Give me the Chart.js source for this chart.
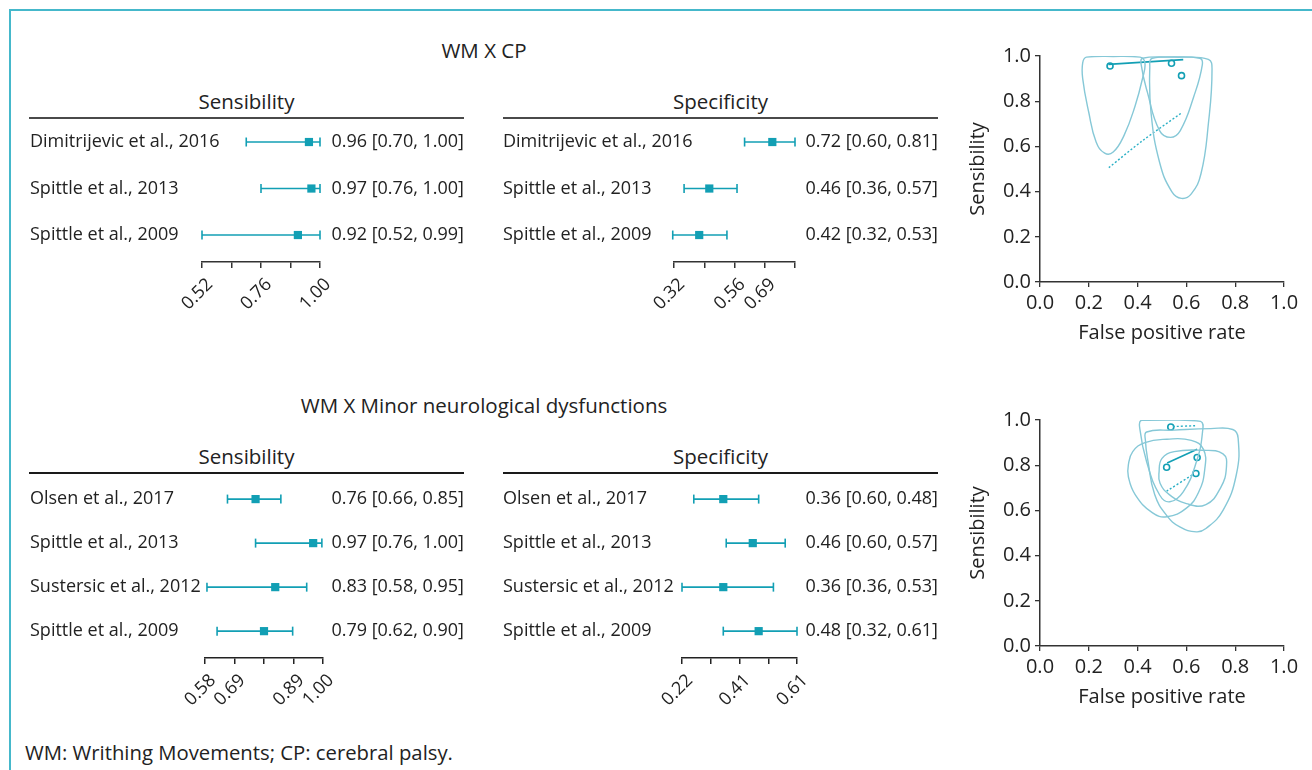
<!DOCTYPE html>
<html>
<head>
<meta charset="utf-8">
<script src="https://cdn.jsdelivr.net/npm/chart.js@4.4.1/dist/chart.umd.min.js"></script>
<style>
  body { margin: 0; background: #fff; font-family: 'Open Sans', sans-serif; color: #222; }
  #page { position: relative; width: 1312px; height: 770px; overflow: hidden; }
  .frame { position: absolute; left: 9px; top: 9px; width: 1400px; height: 900px;
           border-left: 2px solid #45b8cb; border-top: 2px solid #45b8cb; }
  .title { position: absolute; left: 184px; width: 600px; text-align: center; font-size: 20.5px; line-height: 24px; }
  .head { position: absolute; width: 435px; height: 30px; box-sizing: border-box; text-align: center;
          font-size: 20.5px; line-height: 24px; border-bottom: 2px solid #4a4a4a; }
  .head.dark { border-bottom-color: #1a1a1a; }
  .foot { position: absolute; left: 25px; top: 740px; font-size: 20.3px; line-height: 24px; }
  canvas { position: absolute; }
</style>
</head>
<body>
<div id="page">
  <div class="frame"></div>
  <div class="title" style="top:38px">WM X CP</div>
  <div class="head" style="left:29px; top:89px">Sensibility</div>
  <div class="head" style="left:503px; top:89px">Specificity</div>
  <canvas id="cpSens" width="434" height="195" style="left:30px; top:119px"></canvas>
  <canvas id="cpSpec" width="435" height="195" style="left:503px; top:119px"></canvas>
  <canvas id="cpRoc" width="352" height="320" style="left:960px; top:30px"></canvas>

  <div class="title" style="top:393px">WM X Minor neurological dysfunctions</div>
  <div class="head dark" style="left:29px; top:444px">Sensibility</div>
  <div class="head dark" style="left:503px; top:444px">Specificity</div>
  <canvas id="mndSens" width="434" height="236" style="left:30px; top:474px"></canvas>
  <canvas id="mndSpec" width="435" height="236" style="left:503px; top:474px"></canvas>
  <canvas id="mndRoc" width="352" height="320" style="left:960px; top:394px"></canvas>

  <div class="foot">WM: Writhing Movements; CP: cerebral palsy.</div>
</div>
<script>
// WM x CP
const cpStudies = ['Dimitrijevic et al., 2016', 'Spittle et al., 2013', 'Spittle et al., 2009'];
const cpSensEst = [0.955, 0.965, 0.91];
const cpSensLo = [0.70, 0.76, 0.52];
const cpSensHi = [1.00, 1.00, 1.00];
const cpSensText = ['0.96 [0.70, 1.00]', '0.97 [0.76, 1.00]', '0.92 [0.52, 0.99]'];
const cpSensTicks = [0.52, 0.64, 0.76, 0.88, 1.00];
const cpSensTickLabels = ['0.52', '', '0.76', '', '1.00'];

const cpSpecEst = [0.71, 0.46, 0.42];
const cpSpecLo = [0.60, 0.36, 0.315];
const cpSpecHi = [0.80, 0.57, 0.53];
const cpSpecText = ['0.72 [0.60, 0.81]', '0.46 [0.36, 0.57]', '0.42 [0.32, 0.53]'];
const cpSpecTicks = [0.32, 0.44, 0.56, 0.68, 0.80];
const cpSpecTickLabels = ['0.32', '', '0.56', '0.69', ''];

// WM x minor neurological dysfunctions
const mndStudies = ['Olsen et al., 2017', 'Spittle et al., 2013', 'Sustersic et al., 2012', 'Spittle et al., 2009'];
const mndSensEst = [0.76, 0.965, 0.83, 0.79];
const mndSensLo = [0.66, 0.76, 0.587, 0.623];
const mndSensHi = [0.85, 0.996, 0.942, 0.892];
const mndSensText = ['0.76 [0.66, 0.85]', '0.97 [0.76, 1.00]', '0.83 [0.58, 0.95]', '0.79 [0.62, 0.90]'];
const mndSensTicks = [0.58, 0.685, 0.79, 0.895, 1.00];
const mndSensTickLabels = ['0.58', '0.69', '', '0.89', '1.00'];

const mndSpecEst = [0.36, 0.46, 0.36, 0.48];
const mndSpecLo = [0.26, 0.37, 0.22, 0.36];
const mndSpecHi = [0.48, 0.57, 0.53, 0.61];
const mndSpecText = ['0.36 [0.60, 0.48]', '0.46 [0.60, 0.57]', '0.36 [0.36, 0.53]', '0.48 [0.32, 0.61]'];
const mndSpecTicks = [0.22, 0.3175, 0.415, 0.5125, 0.61];
const mndSpecTickLabels = ['0.22', '', '0.41', '', '0.61'];

// SROC plots: [false positive rate, sensibility]
const cpRocStudies = [[0.287, 0.956], [0.539, 0.968], [0.58, 0.913]];
const cpRocCurve = [[0.28, 0.963], [0.587, 0.984]];
const cpRocDotted = [[0.282, 0.506], [0.42, 0.625], [0.58, 0.748]];
const cpRocRegions = [
  [[0.19, 0.995], [0.30, 0.998], [0.41, 0.995], [0.43, 0.97], [0.42, 0.90], [0.39, 0.78], [0.345, 0.65], [0.30, 0.575], [0.265, 0.57], [0.23, 0.62], [0.20, 0.75], [0.175, 0.90], [0.175, 0.97]],
  [[0.42, 0.99], [0.53, 0.995], [0.655, 0.99], [0.665, 0.96], [0.63, 0.82], [0.575, 0.67], [0.535, 0.64], [0.49, 0.67], [0.44, 0.84], [0.415, 0.96]],
  [[0.46, 0.99], [0.58, 0.995], [0.69, 0.985], [0.705, 0.94], [0.69, 0.70], [0.66, 0.48], [0.62, 0.39], [0.58, 0.37], [0.54, 0.40], [0.49, 0.53], [0.455, 0.75], [0.45, 0.95]]
];

const mndRocStudies = [[0.536, 0.969], [0.644, 0.834], [0.519, 0.791], [0.639, 0.763]];
const mndRocCurve = [[0.521, 0.81], [0.644, 0.871]];
const mndRocDotted1 = [[0.545, 0.971], [0.641, 0.975]];
const mndRocDotted2 = [[0.519, 0.685], [0.628, 0.76]];
const mndRocRegions = [
  [[0.416, 0.999], [0.54, 1.0], [0.658, 0.994], [0.666, 0.947], [0.641, 0.815], [0.587, 0.682], [0.532, 0.638], [0.491, 0.667], [0.437, 0.815], [0.409, 0.962]],
  [[0.437, 0.947], [0.55, 0.955], [0.70, 0.962], [0.79, 0.958], [0.812, 0.92], [0.805, 0.76], [0.75, 0.60], [0.68, 0.52], [0.641, 0.505], [0.573, 0.527], [0.518, 0.579], [0.47, 0.67], [0.443, 0.815], [0.432, 0.91]],
  [[0.362, 0.80], [0.38, 0.86], [0.43, 0.90], [0.52, 0.915], [0.62, 0.91], [0.67, 0.87], [0.675, 0.78], [0.65, 0.68], [0.60, 0.61], [0.52, 0.572], [0.46, 0.59], [0.39, 0.67], [0.362, 0.75]],
  [[0.488, 0.77], [0.50, 0.83], [0.55, 0.86], [0.66, 0.866], [0.75, 0.85], [0.764, 0.79], [0.74, 0.70], [0.68, 0.626], [0.60, 0.63], [0.53, 0.67], [0.492, 0.72]]
];

const TEAL = '#129fb4';
const REGION = '#86c8d7';
const FONT = { family: "'Open Sans', sans-serif", size: 18 };
const AXIS_FONT = { family: "'Open Sans', sans-serif", size: 20 };
const TEXT = '#222';

function forestChart(id, studies, est, lo, hi, ciText, tickVals, tickLabels, geo, axisColor) {
  const rows = studies.map((s, i) => i + 1);
  const ciSets = studies.map((s, i) => ({
    data: [{ x: lo[i], y: rows[i] }, { x: hi[i], y: rows[i] }],
    showLine: true,
    borderColor: TEAL,
    borderWidth: 1.6,
    pointStyle: 'line',
    pointRotation: 90,
    pointRadius: 4.5,
    pointBorderWidth: 1.6,
    pointBorderColor: TEAL,
    clip: false
  }));
  const estSet = {
    data: est.map((v, i) => ({ x: v, y: rows[i] })),
    pointStyle: 'rect',
    pointRadius: 5.8,
    backgroundColor: TEAL,
    borderColor: TEAL,
    borderWidth: 0,
    clip: false
  };
  const baseY = {
    type: 'linear',
    reverse: true,
    min: geo.ymin,
    max: geo.ymax,
    afterBuildTicks: s => { s.ticks = rows.map(v => ({ value: v })); },
    grid: { display: false },
    border: { display: false }
  };
  new Chart(document.getElementById(id), {
    type: 'scatter',
    data: { datasets: [...ciSets, estSet] },
    options: {
      responsive: false,
      animation: false,
      events: [],
      layout: { padding: 0, autoPadding: false },
      plugins: { legend: { display: false }, tooltip: { enabled: false } },
      scales: {
        x: {
          type: 'linear',
          min: tickVals[0],
          max: tickVals[tickVals.length - 1],
          afterBuildTicks: s => { s.ticks = tickVals.map(v => ({ value: v })); },
          ticks: { callback: (v, i) => tickLabels[i], minRotation: 45, maxRotation: 45, autoSkip: false,
                   font: FONT, color: TEXT, padding: 6, labelOffset: 8 },
          grid: { drawOnChartArea: false, drawTicks: true, tickLength: 6, color: axisColor, lineWidth: 1.5 },
          border: { color: axisColor, width: 1.5 },
          afterFit: s => { s.height = 52; s.paddingLeft = 0; s.paddingRight = 0; }
        },
        // study names: mirrored so they are not clipped to the axis box
        y: Object.assign({}, baseY, {
          position: 'left',
          ticks: { callback: (v, i) => studies[i], mirror: true, padding: -geo.left, autoSkip: false, font: FONT, color: TEXT },
          afterFit: s => { s.width = geo.left; s.paddingTop = 0; s.paddingBottom = 0; }
        }),
        y2: Object.assign({}, baseY, {
          position: 'right',
          ticks: { callback: (v, i) => ciText[i], crossAlign: 'far', autoSkip: false, font: FONT, color: TEXT, padding: 0 },
          afterFit: s => { s.width = geo.right; s.paddingTop = 0; s.paddingBottom = 0; }
        })
      }
    }
  });
}

function closeLoop(pts) {
  const n = pts.length;
  const loop = [pts[n - 1], ...pts, pts[0], pts[1]];
  return loop.map(p => ({ x: p[0], y: p[1] }));
}

function rocChart(id, studies, curve, dotted, regions) {
  const regionSets = regions.map(r => {
    const data = closeLoop(r);
    const last = data.length - 2;
    return {
      data,
      showLine: true,
      tension: 0.45,
      pointRadius: 0,
      borderColor: REGION,
      borderWidth: 1.4,
      segment: { borderColor: ctx => (ctx.p0DataIndex === 0 || ctx.p0DataIndex === last) ? 'rgba(0,0,0,0)' : undefined }
    };
  });
  const toXY = arr => arr.map(p => ({ x: p[0], y: p[1] }));
  const dottedSets = dotted.map(d => ({
    data: toXY(d),
    showLine: true,
    tension: 0.3,
    pointRadius: 0,
    borderColor: '#2bb0c6',
    borderWidth: 1.4,
    borderDash: [2, 2]
  }));
  const axis = (title, fitFn) => ({
    type: 'linear',
    min: 0,
    max: 1,
    ticks: { stepSize: 0.2, callback: v => v.toFixed(1), font: AXIS_FONT, color: TEXT, padding: 4 },
    grid: { drawOnChartArea: false, drawTicks: true, tickLength: 5, color: '#333', lineWidth: 1.3 },
    border: { color: '#333', width: 1.5 },
    title: { display: true, text: title, font: AXIS_FONT, color: TEXT, padding: { top: 6, bottom: 5 } },
    afterFit: fitFn
  });
  new Chart(document.getElementById(id), {
    type: 'scatter',
    data: {
      datasets: [
        ...regionSets,
        { data: toXY(curve), showLine: true, pointRadius: 0, borderColor: TEAL, borderWidth: 1.6 },
        ...dottedSets,
        { data: toXY(studies), pointRadius: 3, pointStyle: 'circle', backgroundColor: '#fff', borderColor: TEAL, pointBorderWidth: 1.6 }
      ]
    },
    options: {
      responsive: false,
      animation: false,
      events: [],
      layout: { padding: { top: 26, right: 28, left: 0, bottom: 0 }, autoPadding: false },
      plugins: { legend: { display: false }, tooltip: { enabled: false } },
      scales: {
        x: axis('False positive rate', s => { s.height = 68; s.paddingLeft = 0; s.paddingRight = 0; }),
        y: axis('Sensibility', s => { s.width = 80; s.paddingTop = 0; s.paddingBottom = 0; })
      }
    }
  });
}

forestChart('cpSens', cpStudies, cpSensEst, cpSensLo, cpSensHi, cpSensText, cpSensTicks, cpSensTickLabels,
  { left: 172, right: 144, ymin: 0.505, ymax: 3.58 }, '#333');
forestChart('cpSpec', cpStudies, cpSpecEst, cpSpecLo, cpSpecHi, cpSpecText, cpSpecTicks, cpSpecTickLabels,
  { left: 171, right: 143, ymin: 0.505, ymax: 3.58 }, '#333');
forestChart('mndSens', mndStudies, mndSensEst, mndSensLo, mndSensHi, mndSensText, mndSensTicks, mndSensTickLabels,
  { left: 175, right: 141, ymin: 0.43, ymax: 4.61 }, '#222');
forestChart('mndSpec', mndStudies, mndSpecEst, mndSpecLo, mndSpecHi, mndSpecText, mndSpecTicks, mndSpecTickLabels,
  { left: 179, right: 141, ymin: 0.43, ymax: 4.61 }, '#222');

rocChart('cpRoc', cpRocStudies, cpRocCurve, [cpRocDotted], cpRocRegions);
rocChart('mndRoc', mndRocStudies, mndRocCurve, [mndRocDotted1, mndRocDotted2], mndRocRegions);
</script>
</body>
</html>
